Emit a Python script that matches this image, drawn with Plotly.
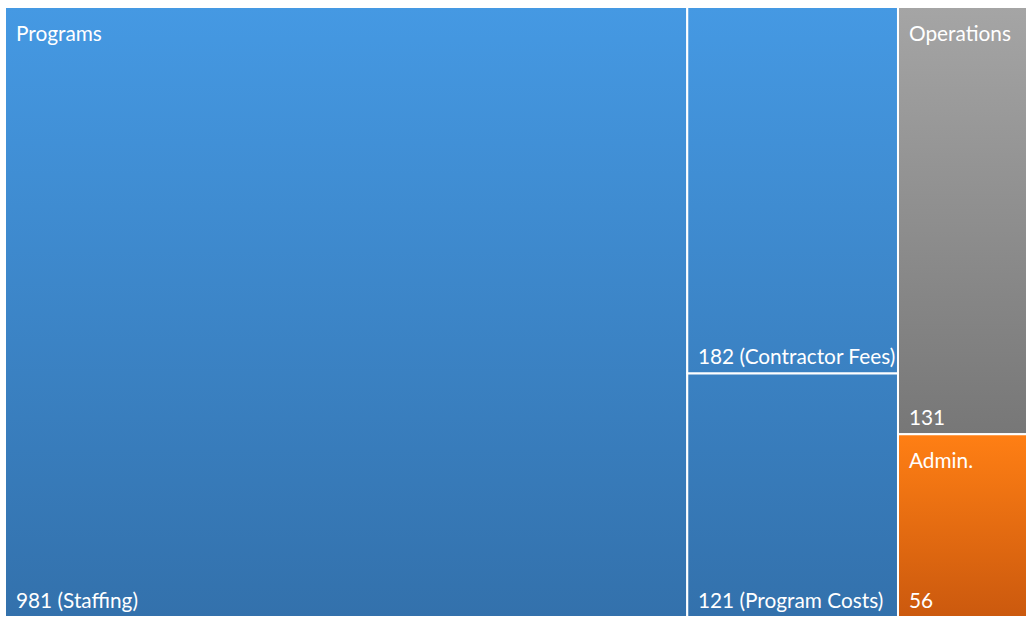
import plotly.graph_objects as go

# ---- data ----
groups = ["Programs", "Programs", "Programs", "Operations", "Admin."]
leaf_names = ["Staffing", "Contractor Fees", "Program Costs", "", ""]
values = [981, 182, 121, 131, 56]
group_order = ["Programs", "Operations", "Admin."]
group_colors = {
    "Programs": ("#3371AC", "#4599E3"),
    "Operations": ("#777777", "#A5A5A5"),
    "Admin.": ("#CB590E", "#FF7F14"),
}

FONT = "Lato, 'Open Sans', sans-serif"
FSIZE = 20.8


def split(vals, rect):
    """First item takes a full-height column, the rest stack vertically in the remaining column."""
    x0, y0, x1, y1 = rect
    total = sum(vals)
    if len(vals) == 1:
        return [rect]
    xm = x0 + (x1 - x0) * vals[0] / total
    out = [(x0, y0, xm, y1)]
    rest = vals[1:]
    rt = sum(rest)
    ytop = y1
    for k, v in enumerate(rest):
        h = (y1 - y0) * v / rt
        ybot = y0 if k == len(rest) - 1 else ytop - h
        out.append((xm, ybot, x1, ytop))
        ytop = ybot
    return out


gvals = [sum(v for g, v in zip(groups, values) if g == gn) for gn in group_order]
grects = split(gvals, (0.0, 0.0, 1.0, 1.0))

fig = go.Figure()
annotations = []
for gn, grect in zip(group_order, grects):
    idx = [i for i, g in enumerate(groups) if g == gn]
    lrects = split([values[i] for i in idx], grect)
    bot, top = group_colors[gn]
    for i, (x0, y0, x1, y1) in zip(idx, lrects):
        fig.add_trace(go.Scatter(
            x=[x0, x1, x1, x0, x0], y=[y0, y0, y1, y1, y0],
            mode="lines", fill="toself",
            line=dict(color="white", width=2),
            fillgradient=dict(type="vertical", start=grect[1], stop=grect[3],
                              colorscale=[[0, bot], [1, top]]),
            hoverinfo="skip", showlegend=False,
        ))
        label = f"{values[i]} ({leaf_names[i]})" if leaf_names[i] else f"{values[i]}"
        annotations.append(dict(x=x0, y=y0, xref="x", yref="y", text=label,
                                showarrow=False, xanchor="left", yanchor="bottom",
                                xshift=9, yshift=3,
                                font=dict(family=FONT, size=FSIZE, color="white")))
    annotations.append(dict(x=grect[0], y=grect[3], xref="x", yref="y", text=gn,
                            showarrow=False, xanchor="left", yanchor="top",
                            xshift=9, yshift=-11,
                            font=dict(family=FONT, size=FSIZE, color="white")))

fig.update_layout(
    width=1026, height=618,
    margin=dict(l=5, r=0, t=7, b=1),
    paper_bgcolor="white", plot_bgcolor="white",
    xaxis=dict(range=[0, 0.998], visible=False, fixedrange=True),
    yaxis=dict(range=[0, 1], visible=False, fixedrange=True),
    annotations=annotations,
    showlegend=False,
)
fig.write_html("out.html", config={"displayModeBar": False},
               post_script="document.body.style.margin='0';")
